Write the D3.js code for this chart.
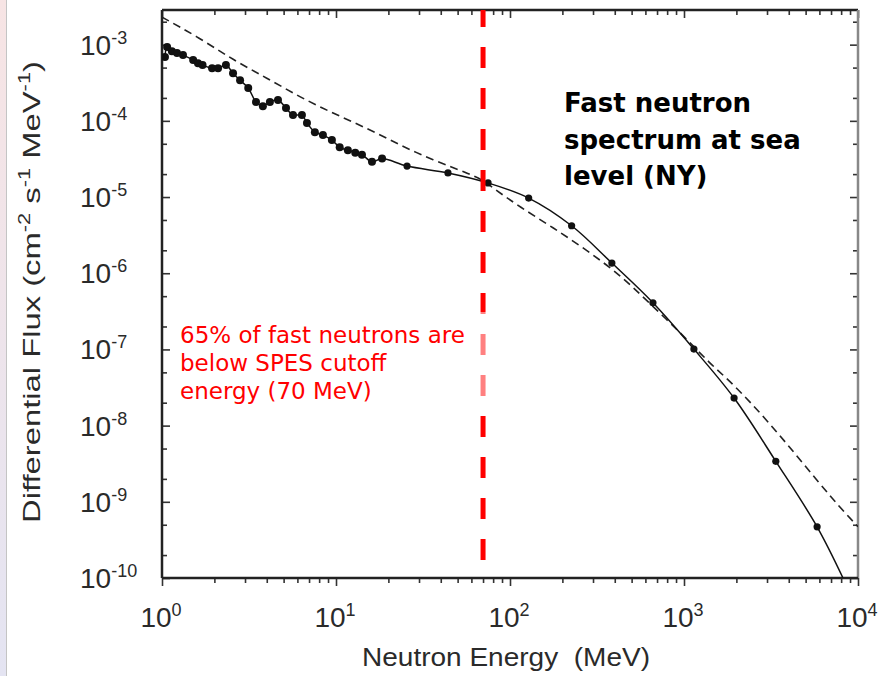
<!DOCTYPE html>
<html>
<head>
<meta charset="utf-8">
<script src="https://cdn.jsdelivr.net/npm/d3@7"></script>
<style>
  body { margin: 0; background: #fff; }
  svg { display: block; }
</style>
</head>
<body>
<div class="chart"></div>
<script>
// measured spectrum (dots + solid line)
var dotE = [1.04, 1.07, 1.14, 1.22, 1.32, 1.51, 1.61, 1.71, 1.94, 2.10, 2.33, 2.56, 2.81, 3.13,
  3.47, 3.80, 4.17, 4.64, 5.16, 5.66, 6.37, 6.81, 7.56, 8.41, 9.47, 10.5, 11.7, 12.9, 14.1,
  16.1, 18.4, 25.6, 44.0, 74.8, 128, 226, 385, 663, 1140, 1940, 3370, 5820];
var dotF = [6.9e-4, 9.3e-4, 8.2e-4, 7.8e-4, 7.3e-4, 6.3e-4, 5.7e-4, 5.4e-4, 4.9e-4, 4.9e-4, 5.4e-4,
  4.2e-4, 3.4e-4, 2.7e-4, 1.77e-4, 1.56e-4, 1.77e-4, 1.88e-4, 1.47e-4, 1.19e-4, 1.19e-4, 9.4e-5,
  7.1e-5, 6.5e-5, 5.6e-5, 4.5e-5, 4.1e-5, 3.8e-5, 3.6e-5, 2.9e-5, 3.2e-5, 2.55e-5, 2.07e-5,
  1.53e-5, 9.7e-6, 4.2e-6, 1.36e-6, 4.1e-7, 1.01e-7, 2.3e-8, 3.4e-9, 4.7e-10];
// where the solid curve runs out of the frame
var tailE = [8200];
var tailF = [1e-10];

// dashed model curve
var fitE = [1.0, 1.65, 2.56, 4.01, 6.2, 9.6, 15.1, 23.3, 36.0, 56.9, 70, 80, 114, 176, 277,
  429, 610, 984, 1400, 1900, 3000, 4680, 7190, 10000];
var fitF = [2.3e-3, 1.22e-3, 6.3e-4, 3.65e-4, 2.05e-4, 1.26e-4, 8.0e-5, 4.8e-5, 3.06e-5, 2.07e-5,
  1.67e-5, 1.31e-5, 7.4e-6, 4.0e-6, 2.0e-6, 9.5e-7, 4.4e-7, 1.55e-7, 6.6e-8, 3.6e-8, 1.18e-8,
  3.5e-9, 1.06e-9, 4.7e-10];

var cutoffE = 70;

var xTickValues = [1, 10, 100, 1000, 10000];
var xTickExp = ["0", "1", "2", "3", "4"];
var yTickValues = [1e-10, 1e-9, 1e-8, 1e-7, 1e-6, 1e-5, 1e-4, 1e-3];
var yTickExp = ["-10", "-9", "-8", "-7", "-6", "-5", "-4", "-3"];

var xDomain = [1, 1e4];
var yDomain = [1e-10, 2.85e-3];

var noteRed = ["65% of fast neutrons are", "below SPES cutoff", "energy (70 MeV)"];
var noteBlack = ["Fast neutron", "spectrum at sea", "level (NY)"];

var svgWidth = 881;
var svgHeight = 676;
var margin = { top: 10, right: 23, bottom: 98, left: 162 };

var svg = d3.select(".chart")
  .append("svg")
  .attr("width", svgWidth)
  .attr("height", svgHeight);

// slide edge on the left
var grad = svg.append("defs").append("linearGradient")
  .attr("id", "edge").attr("x1", 0).attr("y1", 0).attr("x2", 0).attr("y2", 1);
grad.append("stop").attr("offset", "0%").attr("stop-color", "#f7e4e4");
grad.append("stop").attr("offset", "100%").attr("stop-color", "#e4e4f2");
svg.append("rect").attr("x", 0).attr("y", 0).attr("width", 6).attr("height", svgHeight)
  .attr("fill", "url(#edge)");
svg.append("line").attr("x1", 6.5).attr("x2", 6.5).attr("y1", 0).attr("y2", svgHeight)
  .attr("stroke", "#c4c4c4").attr("stroke-width", 1);

var x = d3.scaleLog().domain(xDomain).range([margin.left, svgWidth - margin.right]);
var y = d3.scaleLog().domain(yDomain).range([svgHeight - margin.bottom, margin.top]);

var x0 = x.range()[0], x1 = x.range()[1];
var y0 = y.range()[0], y1 = y.range()[1];

svg.append("clipPath").attr("id", "plot")
  .append("rect").attr("x", x0).attr("y", y1).attr("width", x1 - x0).attr("height", y0 - y1);

// minor ticks
var xMinor = [];
xTickValues.slice(0, -1).forEach(function(v) {
  for (var k = 2; k <= 9; k++) xMinor.push(v * k);
});
var yMinor = [];
yTickValues.forEach(function(v) {
  [2, 5].forEach(function(k) { if (v * k < yDomain[1]) yMinor.push(v * k); });
});

function tickAxis(axis, values, size, tx, ty) {
  var g = svg.append("g")
    .attr("transform", "translate(" + tx + "," + ty + ")")
    .call(axis.tickValues(values).tickSize(size).tickFormat(""));
  g.select(".domain").remove();
  g.selectAll("line").attr("stroke", "#333").attr("stroke-width", 1.6);
  return g;
}

// bottom ticks point out, the rest point in
tickAxis(d3.axisBottom(x), xTickValues, 8, 0, y0);
tickAxis(d3.axisBottom(x), xMinor, 5, 0, y0);
tickAxis(d3.axisBottom(x), xTickValues, 8, 0, y1);
tickAxis(d3.axisBottom(x), xMinor, 5, 0, y1);
tickAxis(d3.axisRight(y), yTickValues, 8, x0, 0);
tickAxis(d3.axisRight(y), yMinor, 5, x0, 0);
tickAxis(d3.axisLeft(y), yTickValues, 8, x1, 0);
tickAxis(d3.axisLeft(y), yMinor, 5, x1, 0);

// frame
svg.append("line").attr("x1", x0).attr("x2", x1).attr("y1", y1).attr("y2", y1)
  .attr("stroke", "#222").attr("stroke-width", 2.5);
svg.append("line").attr("x1", x1).attr("x2", x1).attr("y1", y1).attr("y2", y0)
  .attr("stroke", "#888").attr("stroke-width", 2.5);
svg.append("line").attr("x1", x0).attr("x2", x0).attr("y1", y1).attr("y2", y0)
  .attr("stroke", "#222").attr("stroke-width", 2.5);
svg.append("line").attr("x1", x0).attr("x2", x1).attr("y1", y0).attr("y2", y0)
  .attr("stroke", "#222").attr("stroke-width", 2.5);

// tick labels: 10 with superscript exponent
var labelFont = "'Liberation Sans', Arial, sans-serif";
var xl = svg.append("g").selectAll("text")
  .data(xTickValues)
  .enter()
  .append("text")
  .attr("x", function(d) { return x(d) - 1; })
  .attr("y", y0 + 49)
  .attr("text-anchor", "middle")
  .attr("font-family", labelFont)
  .attr("font-size", 28)
  .attr("fill", "#2a2a2a");
xl.append("tspan").text("10");
xl.append("tspan").attr("font-size", 18).attr("dy", -11)
  .text(function(d, i) { return xTickExp[i]; });

var yl = svg.append("g").selectAll("text")
  .data(yTickValues)
  .enter()
  .append("text")
  .attr("x", 80)
  .attr("y", function(d) { return y(d) + 10; })
  .attr("font-family", labelFont)
  .attr("font-size", 28)
  .attr("fill", "#2a2a2a");
yl.append("tspan").text("10");
yl.append("tspan").attr("font-size", 18).attr("dy", -11)
  .text(function(d, i) { return yTickExp[i]; });

// axis titles
svg.append("text")
  .attr("x", (x0 + x1) / 2 - 4)
  .attr("y", 666)
  .attr("text-anchor", "middle")
  .attr("font-family", labelFont)
  .attr("font-size", 26)
  .attr("fill", "#2a2a2a")
  .attr("textLength", 288)
  .attr("lengthAdjust", "spacingAndGlyphs")
  .attr("xml:space", "preserve")
  .text("Neutron Energy  (MeV)");

var yt = svg.append("text")
  .attr("transform", "translate(40,292) rotate(-90)")
  .attr("text-anchor", "middle")
  .attr("font-family", labelFont)
  .attr("font-size", 24)
  .attr("fill", "#2a2a2a")
  .attr("textLength", 462)
  .attr("lengthAdjust", "spacingAndGlyphs");
yt.append("tspan").text("Differential Flux  (cm");
yt.append("tspan").attr("font-size", 16).attr("dy", -10).text("-2");
yt.append("tspan").attr("dy", 10).text(" s");
yt.append("tspan").attr("font-size", 16).attr("dy", -10).text("-1");
yt.append("tspan").attr("dy", 10).text(" MeV");
yt.append("tspan").attr("font-size", 16).attr("dy", -10).text("-1");
yt.append("tspan").attr("dy", 10).text(")");

var plot = svg.append("g").attr("clip-path", "url(#plot)");

// dashed model
var fitData = fitE.map(function(e, i) { return [e, fitF[i]]; });
plot.append("path")
  .datum(fitData)
  .attr("fill", "none")
  .attr("stroke", "#222")
  .attr("stroke-width", 1.6)
  .attr("stroke-dasharray", "8,5")
  .attr("d", d3.line()
    .x(function(d) { return x(d[0]); })
    .y(function(d) { return y(d[1]); })
    .curve(d3.curveBasis));

// measured line and dots
var dotData = dotE.map(function(e, i) { return [e, dotF[i]]; });
var lineData = dotData.concat(tailE.map(function(e, i) { return [e, tailF[i]]; }));
plot.append("path")
  .datum(lineData)
  .attr("fill", "none")
  .attr("stroke", "#111")
  .attr("stroke-width", 1.5)
  .attr("d", d3.line()
    .x(function(d) { return x(d[0]); })
    .y(function(d) { return y(d[1]); })
    .curve(d3.curveCatmullRom.alpha(0.5)));

plot.selectAll(".dot")
  .data(dotData)
  .enter()
  .append("circle")
  .attr("class", "dot")
  .attr("cx", function(d) { return x(d[0]); })
  .attr("cy", function(d) { return y(d[1]); })
  .attr("r", function(d) { return d[0] < 20 ? 4 : 3.6; })
  .attr("fill", "#111");

// SPES cutoff
svg.append("line")
  .attr("x1", x(cutoffE)).attr("x2", x(cutoffE))
  .attr("y1", y1).attr("y2", y0)
  .attr("stroke", "#ff0000")
  .attr("stroke-width", 5)
  .attr("stroke-dasharray", "21,20")
  .attr("stroke-dashoffset", 4);

// the note box washes out the red line a little
svg.append("rect")
  .attr("x", 176).attr("y", 312).attr("width", x(cutoffE) + 4 - 176).attr("height", 98)
  .attr("fill", "#fff").attr("opacity", 0.5);

svg.append("g").selectAll("text")
  .data(noteRed)
  .enter()
  .append("text")
  .attr("x", 180)
  .attr("y", function(d, i) { return 343 + i * 28; })
  .attr("font-family", "'DejaVu Sans', Verdana, sans-serif")
  .attr("font-size", 23)
  .attr("fill", "#ff0000")
  .text(function(d) { return d; });

svg.append("g").selectAll("text")
  .data(noteBlack)
  .enter()
  .append("text")
  .attr("x", 564)
  .attr("y", function(d, i) { return 112 + i * 36.5; })
  .attr("font-family", "'DejaVu Sans', Verdana, sans-serif")
  .attr("font-weight", "bold")
  .attr("font-size", 26)
  .attr("fill", "#000")
  .text(function(d) { return d; });
</script>
</body>
</html>
